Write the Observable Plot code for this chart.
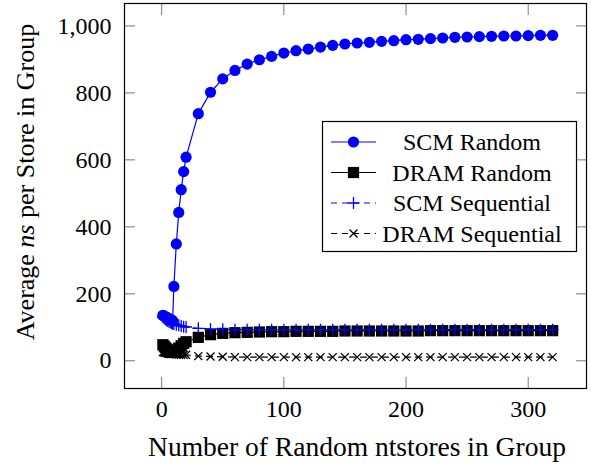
<!DOCTYPE html>
<html>
<head>
<meta charset="utf-8">
<script src="https://cdn.jsdelivr.net/npm/d3@7"></script>
<script src="https://cdn.jsdelivr.net/npm/@observablehq/plot@0.6"></script>
<style>
  body { margin: 0; background: #fff; }
  #chart svg { display: block; }
  #chart svg text { font-family: 'Liberation Serif', 'Times New Roman', serif !important; }
</style>
</head>
<body>
<div id="chart"></div>
<script>
// Number of random ntstores per group (x)
const groupSizes = [1, 2, 3, 4, 5, 6, 7, 8, 9, 10, 12, 14, 16, 18, 20,
  30, 40, 50, 60, 70, 80, 90, 100, 110, 120, 130, 140, 150, 160, 170, 180,
  190, 200, 210, 220, 230, 240, 250, 260, 270, 280, 290, 300, 310, 320];

// Average ns per store for each configuration
const scmRandom = [136, 134, 132, 130, 128, 126, 124, 122, 120, 222, 349, 443, 511, 565, 608,
  738, 802, 842, 867, 886, 899, 909, 919, 926, 931, 937, 942, 946, 949, 951, 954,
  956, 959, 960, 962, 964, 966, 967, 968, 969, 970, 970, 971, 972, 972];
const dramRandom = [48, 44, 40, 36, 32, 29, 27, 26, 26, 27, 32, 38, 45, 52, 57,
  70, 78, 82, 84, 85, 86, 87, 87, 88, 88, 88, 88, 89, 89, 89, 89,
  89, 89, 89, 90, 90, 90, 90, 90, 90, 90, 90, 90, 90, 90];
const scmSequential = [130, 127, 124, 121, 119, 117, 115, 113, 111, 110, 108, 106, 104, 102, 101,
  97, 95, 94, 93, 93, 93, 93, 93, 93, 93, 93, 93, 93, 93, 93, 93,
  93, 93, 93, 93, 93, 93, 93, 93, 93, 93, 93, 93, 93, 93];
const dramSequential = [26, 25, 24, 23, 22, 21, 21, 20, 20, 20, 19, 19, 18, 18, 18,
  14, 13, 12, 11, 11, 11, 11, 11, 11, 11, 11, 11, 11, 11, 11, 11,
  11, 11, 11, 11, 11, 11, 11, 11, 11, 11, 11, 11, 11, 11];

const seriesNames = ["SCM Random", "DRAM Random", "SCM Sequential", "DRAM Sequential"];
const xTicks = [0, 100, 200, 300];
const yTicks = [0, 200, 400, 600, 800, 1000];

// Marker shapes whose half-extent equals Plot's r
const radiusOf = size => Math.sqrt(size / Math.PI);
const plusSymbol = { draw(ctx, size) { const r = radiusOf(size);
  ctx.moveTo(-r, 0); ctx.lineTo(r, 0); ctx.moveTo(0, -r); ctx.lineTo(0, r); } };
const timesSymbol = { draw(ctx, size) { const r = radiusOf(size);
  ctx.moveTo(-r, -r); ctx.lineTo(r, r); ctx.moveTo(-r, r); ctx.lineTo(r, -r); } };
const squareSymbol = { draw(ctx, size) { const r = radiusOf(size);
  ctx.rect(-r, -r, 2 * r, 2 * r); } };

const styles = [
  { values: scmRandom, color: "#0000ff", dash: null, symbol: "circle", r: 5.6, filled: true },
  { values: dramRandom, color: "#000000", dash: null, symbol: squareSymbol, r: 5.6, filled: true },
  { values: scmSequential, color: "#0000ff", dash: "6,5", symbol: plusSymbol, r: 6, filled: false },
  { values: dramSequential, color: "#000000", dash: "6,5", symbol: timesSymbol, r: 4, filled: false }
];

const rows = values => groupSizes.map((x, i) => ({ x, y: values[i] }));

const marks = [];
for (const s of styles) {
  const data = rows(s.values);
  marks.push(Plot.line(data, { x: "x", y: "y", stroke: s.color, strokeWidth: 1.2,
    strokeDasharray: s.dash ?? undefined }));
  marks.push(Plot.dot(data, s.filled
    ? { x: "x", y: "y", r: s.r, symbol: s.symbol, fill: s.color, stroke: "none" }
    : { x: "x", y: "y", r: s.r, symbol: s.symbol, fill: "none", stroke: s.color, strokeWidth: 1.3 }));
}

const font = "'Liberation Serif', 'Times New Roman', serif";
const tickStyle = { stroke: "#777", strokeWidth: 1 };
const chart = Plot.plot({
  width: 591,
  height: 464,
  marginLeft: 124,
  marginRight: 5,
  marginTop: 3,
  marginBottom: 76,
  style: `font-family: ${font}; font-size: 24px; color: #000; background: #fff;`,
  x: { domain: [-30.4, 347.7] },
  y: { domain: [-82.7, 1067] },
  marks: [
    // inward tick marks on all four sides
    Plot.axisX({ anchor: "bottom", ticks: xTicks, tickSize: 11, dy: -11, tickFormat: () => "", label: null, ...tickStyle }),
    Plot.axisX({ anchor: "top", ticks: xTicks, tickSize: 11, dy: 11, tickFormat: () => "", label: null, ...tickStyle }),
    Plot.axisY({ anchor: "left", ticks: yTicks, tickSize: 11, dx: 11, tickFormat: () => "", label: null, ...tickStyle }),
    Plot.axisY({ anchor: "right", ticks: yTicks, tickSize: 11, dx: -11, tickFormat: () => "", label: null, ...tickStyle }),
    // tick labels
    Plot.axisX({ anchor: "bottom", ticks: xTicks, tickSize: 0, tickPadding: 11, label: null, fill: "#000" }),
    Plot.axisY({ anchor: "left", ticks: yTicks, tickSize: 0, tickPadding: 13, label: null, fill: "#000",
      tickFormat: d => d3.format(",")(d) }),
    ...marks,
    Plot.frame({ stroke: "#000", strokeWidth: 1.2 })
  ]
});

document.getElementById("chart").append(chart);

// Axis titles and legend
const svg = d3.select(chart);
svg.selectAll("g").attr("font-family", font);
svg.selectAll("text").attr("font-family", font).style("font-variant", "normal");

svg.append("text")
  .attr("x", 357).attr("y", 456)
  .attr("text-anchor", "middle")
  .attr("font-family", font).attr("font-size", 27.5)
  .text("Number of Random ntstores in Group");

const yTitle = svg.append("text")
  .attr("transform", "translate(34,182) rotate(-90)")
  .attr("text-anchor", "middle")
  .attr("font-family", font).attr("font-size", 26);
yTitle.append("tspan").text("Average ");
yTitle.append("tspan").attr("font-style", "italic").text("ns");
yTitle.append("tspan").text(" per Store in Group");

const legend = svg.append("g");
legend.append("rect")
  .attr("x", 322.5).attr("y", 121.5).attr("width", 254).attr("height", 130)
  .attr("fill", "#fff").attr("stroke", "#000").attr("stroke-width", 1.2);
const rowY = [142, 172.5, 203, 233.5];
styles.forEach((s, i) => {
  const g = legend.append("g").attr("transform", `translate(0,${rowY[i]})`);
  g.append("line").attr("x1", 331).attr("x2", 376).attr("y1", 0).attr("y2", 0)
    .attr("stroke", s.color).attr("stroke-width", 1.2)
    .attr("stroke-dasharray", s.dash);
  const sym = s.symbol === "circle" ? d3.symbolCircle : s.symbol;
  g.append("path")
    .attr("transform", "translate(353.5,0)")
    .attr("d", d3.symbol(sym, Math.PI * s.r * s.r)())
    .attr("fill", s.filled ? s.color : "none")
    .attr("stroke", s.filled ? "none" : s.color)
    .attr("stroke-width", 1.3);
  g.append("text").attr("x", 472).attr("y", 0).attr("dy", "0.35em")
    .attr("text-anchor", "middle")
    .attr("font-family", font).attr("font-size", 24)
    .text(seriesNames[i]);
});
</script>
</body>
</html>
